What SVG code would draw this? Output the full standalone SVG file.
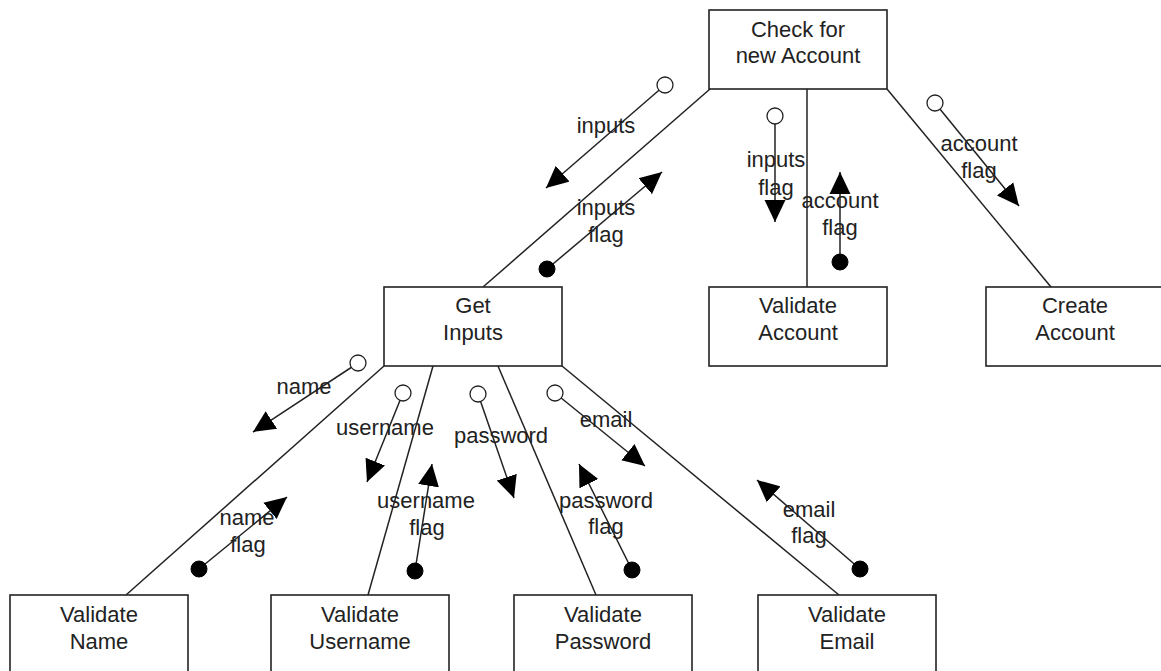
<svg xmlns="http://www.w3.org/2000/svg" width="1161" height="671" viewBox="0 0 1161 671">
<style>
.box{fill:#fff;stroke:#222;stroke-width:1.6}
.lbl{font-family:"Liberation Sans",Arial,sans-serif;font-size:22px;fill:#222;text-anchor:middle}
.conn{stroke:#222;stroke-width:1.5;fill:none}
.flow{stroke:#222;stroke-width:1.5;fill:none;marker-end:url(#tri)}
.open{fill:#fff;stroke:#222;stroke-width:1.3}
.full{fill:#000;stroke:#000;stroke-width:1}
</style>
<defs>
<marker id="tri" markerUnits="userSpaceOnUse" markerWidth="22" markerHeight="22" viewBox="0 0 21 20" refX="21" refY="10" orient="auto">
<path d="M0,0 L21,10 L0,20 z" fill="#000"/>
</marker>
</defs>
<rect width="1161" height="671" fill="#fff"/>
<g id="connectors">
<line class="conn" x1="710" y1="89" x2="483" y2="287"/>
<line class="conn" x1="807" y1="89" x2="807" y2="287"/>
<line class="conn" x1="887" y1="89" x2="1051" y2="287"/>
<line class="conn" x1="384" y1="366" x2="126" y2="595"/>
<line class="conn" x1="433" y1="366" x2="368" y2="595"/>
<line class="conn" x1="498" y1="366" x2="596" y2="595"/>
<line class="conn" x1="562" y1="366" x2="839" y2="595"/>
</g>
<g id="node-check">
<rect class="box" x="709" y="10" width="178" height="79"/>
<text class="lbl" x="798" y="37">Check for</text>
<text class="lbl" x="798" y="63">new Account</text>
</g>
<g id="node-getinputs">
<rect class="box" x="384" y="287" width="178" height="79"/>
<text class="lbl" x="473" y="313">Get</text>
<text class="lbl" x="473" y="340">Inputs</text>
</g>
<g id="node-validateaccount">
<rect class="box" x="709" y="287" width="178" height="79"/>
<text class="lbl" x="798" y="313">Validate</text>
<text class="lbl" x="798" y="340">Account</text>
</g>
<g id="node-createaccount">
<rect class="box" x="986" y="287" width="178" height="79"/>
<text class="lbl" x="1075" y="313">Create</text>
<text class="lbl" x="1075" y="340">Account</text>
</g>
<g id="node-validatename">
<rect class="box" x="10" y="595" width="178" height="79"/>
<text class="lbl" x="99" y="622">Validate</text>
<text class="lbl" x="99" y="649">Name</text>
</g>
<g id="node-validateusername">
<rect class="box" x="271" y="595" width="178" height="79"/>
<text class="lbl" x="360" y="622">Validate</text>
<text class="lbl" x="360" y="649">Username</text>
</g>
<g id="node-validatepassword">
<rect class="box" x="514" y="595" width="178" height="79"/>
<text class="lbl" x="603" y="622">Validate</text>
<text class="lbl" x="603" y="649">Password</text>
</g>
<g id="node-validateemail">
<rect class="box" x="758" y="595" width="178" height="79"/>
<text class="lbl" x="847" y="622">Validate</text>
<text class="lbl" x="847" y="649">Email</text>
</g>
<g id="couples">
<line class="flow" x1="665" y1="85" x2="546" y2="188"/><circle class="open" cx="665" cy="85" r="8"/>
<line class="flow" x1="547" y1="269" x2="662" y2="172"/><circle class="full" cx="547" cy="269" r="8"/>
<line class="flow" x1="775" y1="116" x2="775" y2="222"/><circle class="open" cx="775" cy="116" r="8"/>
<line class="flow" x1="840" y1="262" x2="840" y2="172"/><circle class="full" cx="840" cy="262" r="8"/>
<line class="flow" x1="935" y1="103" x2="1019" y2="206"/><circle class="open" cx="935" cy="103" r="8"/>
<line class="flow" x1="358" y1="363" x2="253" y2="432"/><circle class="open" cx="358" cy="363" r="8"/>
<line class="flow" x1="199" y1="569" x2="287" y2="497"/><circle class="full" cx="199" cy="569" r="8"/>
<line class="flow" x1="403" y1="393" x2="367" y2="482"/><circle class="open" cx="403" cy="393" r="8"/>
<line class="flow" x1="415" y1="571" x2="432" y2="464"/><circle class="full" cx="415" cy="571" r="8"/>
<line class="flow" x1="478" y1="394" x2="514" y2="498"/><circle class="open" cx="478" cy="394" r="8"/>
<line class="flow" x1="632" y1="570" x2="579" y2="464"/><circle class="full" cx="632" cy="570" r="8"/>
<line class="flow" x1="555" y1="393" x2="645" y2="466"/><circle class="open" cx="555" cy="393" r="8"/>
<line class="flow" x1="860" y1="569" x2="757" y2="480"/><circle class="full" cx="860" cy="569" r="8"/>
</g>
<g id="couple-labels">
<text class="lbl" x="606" y="133">inputs</text>
<text class="lbl" x="606" y="215">inputs</text>
<text class="lbl" x="606" y="242">flag</text>
<text class="lbl" x="776" y="167">inputs</text>
<text class="lbl" x="776" y="195">flag</text>
<text class="lbl" x="840" y="208">account</text>
<text class="lbl" x="840" y="235">flag</text>
<text class="lbl" x="979" y="151">account</text>
<text class="lbl" x="979" y="178">flag</text>
<text class="lbl" x="304" y="394">name</text>
<text class="lbl" x="247" y="525">name</text>
<text class="lbl" x="248" y="552">flag</text>
<text class="lbl" x="385" y="435">username</text>
<text class="lbl" x="426" y="508">username</text>
<text class="lbl" x="427" y="535">flag</text>
<text class="lbl" x="501" y="443">password</text>
<text class="lbl" x="606" y="508">password</text>
<text class="lbl" x="606" y="534">flag</text>
<text class="lbl" x="606" y="427">email</text>
<text class="lbl" x="809" y="517">email</text>
<text class="lbl" x="809" y="543">flag</text>
</g>
</svg>
